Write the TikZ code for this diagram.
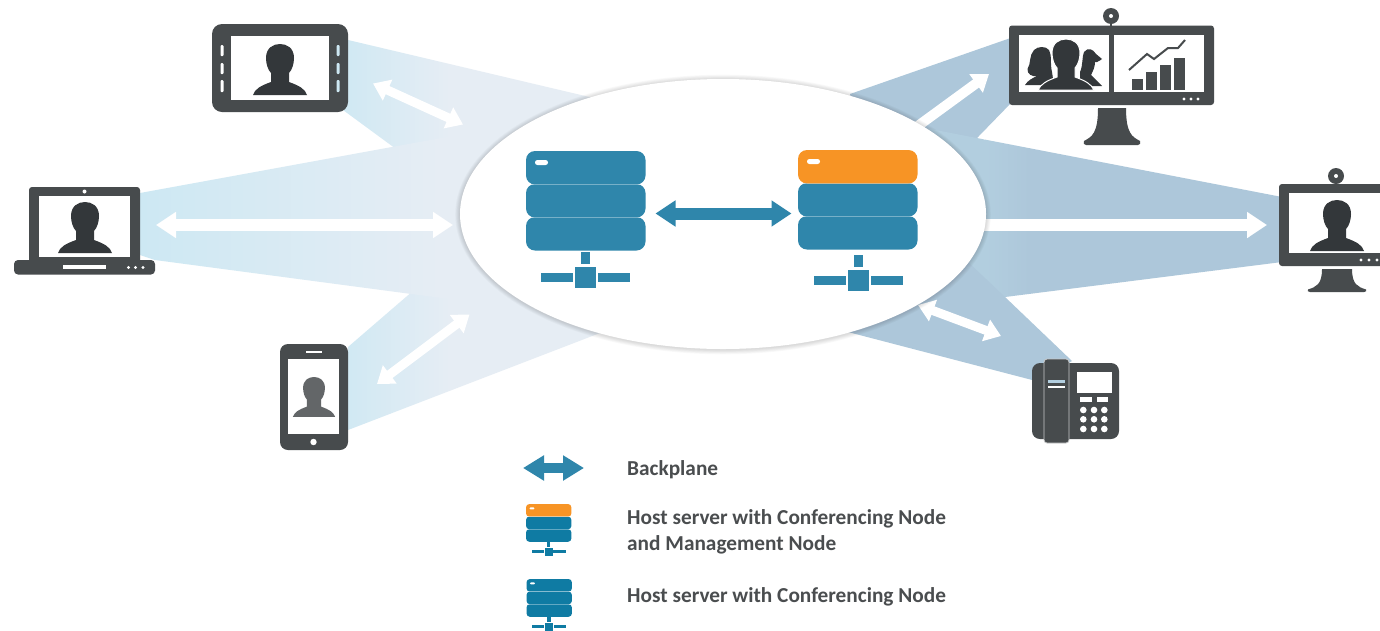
\documentclass[tikz,border=0pt]{standalone}
\usepackage{fontspec}
\setmainfont{Carlito}
\usetikzlibrary{arrows.meta}
\definecolor{dev}{HTML}{474B4D}
\definecolor{head}{HTML}{33373A}
\definecolor{srv}{HTML}{2F86AB}
\definecolor{srvl}{HTML}{0F7BA3}
\definecolor{org}{HTML}{F79425}
\definecolor{bA}{HTML}{CDE8F3}
\definecolor{bB}{HTML}{E6EDF4}
\definecolor{bR}{HTML}{ADC7DA}
\definecolor{bRl}{HTML}{B2CEDF}
\definecolor{txt}{HTML}{4A4D4F}
\tikzset{
  devbody/.style={fill=dev,draw=none},
  screenw/.style={fill=white,draw=none},
  wflow/.style={draw=white,line width=#1},
  wflow/.default=9pt,
  tipbig/.style={{Triangle[length=20pt,width=25pt]}-{Triangle[length=20pt,width=25pt]}},
  tipmid/.style={{Triangle[length=16pt,width=22pt]}-{Triangle[length=16pt,width=22pt]}},
  legendtext/.style={anchor=base west,inner sep=0pt,text=txt,font=\fontsize{21.3pt}{26pt}\selectfont\bfseries,align=left},
}
\newcommand{\beamshade}[5]{\begin{scope}\clip #5;
  \shade[left color=#3,right color=#4] (#1,0) rectangle (#2,630);
  \fill[#3] (0,0) rectangle (#1,630);
  \fill[#4] (#2,0) rectangle (1380,630);\end{scope}}
\newcommand{\person}[4]{\begin{scope}[shift={(#1,#2)},scale=#3]
  \fill[#4] (-27,51) .. controls (-25,45) and (-20,42) .. (-9,38) -- (-9,29) .. controls (-12,26) and (-14,20) .. (-14,14) .. controls (-14,4) and (-7,0) .. (0,0) .. controls (7,0) and (14,4) .. (14,14) .. controls (14,20) and (12,26) .. (9,29) -- (9,38) .. controls (20,42) and (25,45) .. (27,51) -- cycle;
\end{scope}}
\newcommand{\srvbody}[5]{\begin{scope}[shift={(#1,#2)},scale=#3]
  \fill[#5,rounded corners=#3*9pt] (0,66) rectangle (119.5,99.5);
  \fill[#5,rounded corners=#3*9pt] (0,33) rectangle (119.5,66.5);
  \fill[#4,rounded corners=#3*9pt] (0,0) rectangle (119.5,33.5);
  \draw[white,opacity=.35,line width=#3*.7pt] (3,33.2) -- (116,33.2) (3,66.2) -- (116,66.2);
  \fill[white,rounded corners=#3*2.4pt] (9,9) rectangle (22,14);
\end{scope}}
\newcommand{\srvnet}[4]{\begin{scope}[shift={(#1,#2)},scale=#3]
  \fill[#4] (55,0) rectangle (64,12);
  \fill[#4] (49,15) rectangle (70,36);
  \fill[#4] (15,21) rectangle (47,30);
  \fill[#4] (72,21) rectangle (104,30);
\end{scope}}
\newcommand{\stand}[5]{% left top, right top, top y, flare, height
  \fill[dev] (#1,#3) -- (#2,#3) .. controls (#2,#3+#5*.68) and (#2+6,#3+#5*.78) .. (#2+#4,#3+#5*.89) .. controls (#2+#4+1,#3+#5*.95) and (#2+#4,#3+#5) .. (#2+#4-2,#3+#5) -- (#1-#4+2,#3+#5) .. controls (#1-#4,#3+#5) and (#1-#4-1,#3+#5*.95) .. (#1-#4,#3+#5*.89) .. controls (#1-6,#3+#5*.78) and (#1,#3+#5*.68) .. (#1,#3) -- cycle;}
\begin{document}
\begin{tikzpicture}[x=1pt,y=-1pt]
\useasboundingbox (0,0) rectangle (1380,630);
\clip (0,0) rectangle (1380,630);
\fill[white] (0,0) rectangle (1380,630);
% named ends of the flows
\coordinate (tabA) at (373,83.5);
\coordinate (tabB) at (463,124.5);
\coordinate (lapA) at (156,225);
\coordinate (lapB) at (453,225);
\coordinate (phA) at (377,384);
\coordinate (phB) at (469.5,314.5);
\coordinate (monA) at (900,139);
\coordinate (monB) at (989,74);
\coordinate (mon2A) at (960,225);
\coordinate (mon2B) at (1267,225);
\coordinate (telA) at (918,305);
\coordinate (telB) at (1001,336);
\coordinate (bpA) at (655.5,213.5);
\coordinate (bpB) at (791.5,213.5);
\coordinate (lbpA) at (523,468);
\coordinate (lbpB) at (584,468);
% left beams
\beamshade{348}{450}{bA!85!bB}{bB}{(348,40) -- (600,99.5) -- (640,200) -- (520,240) -- (343,110) -- cycle}
\beamshade{348}{450}{bA!85!bB}{bB}{(348,347) -- (530,190) -- (640,200) -- (600,333) -- (348,430) -- cycle}
\beamshade{140}{440}{bA}{bB}{(140,193) -- (600,109) -- (600,319) -- (155,260) -- (140,255) -- cycle}
% right beams
\fill[bR] (1012,37.5) -- (850,94) -- (880,200) -- (930,185) -- (978,137) -- (1012,102) -- cycle;
\beamshade{985}{1030}{bRl}{bR}{(1282,197) -- (925,128) -- (880,200) -- (880,313) -- (1005,297) -- (1282,262) -- cycle}
\fill[bR] (848,332) -- (1036,381) -- (1072,361) -- (1005,297) -- (930,226) -- (880,250) -- cycle;
% flows
\draw[wflow=9pt,tipmid,white] (tabA) -- (tabB);
\draw[wflow=12pt,tipbig] (lapA) -- (lapB);
\draw[wflow=9pt,tipmid,white] (phA) -- (phB);
\draw[wflow=10pt,tipmid,white] (monA) -- (monB);
\draw[wflow=12pt,tipbig] (mon2A) -- (mon2B);
\draw[wflow=9pt,tipmid,white] (telA) -- (telB);
% central ellipse
\foreach \i in {1,...,6}{\fill[black,opacity=.022] (723,214.5) ellipse ({263+\i*.8} and {135+\i*.8});}
\fill[white] (723,214) ellipse (263 and 135);
\node[inner sep=0pt,minimum size=0pt] (hub) at (723,214) {};
% servers
\srvbody{526}{151}{1}{srv}{srv}
\srvnet{526}{252}{1}{srv}
\srvbody{798}{150}{1}{org}{srv}
\srvnet{798.5}{255}{1}{srv}
\draw[srv,line width=12pt,tipbig] (bpA) -- (bpB);
% tablet
\fill[devbody,rounded corners=10pt] (212,24) rectangle (348,112);
\fill[screenw] (231,36) rectangle (329,100);
\foreach \y/\z in {45/56,63/74,80/92}{
  \fill[white,rounded corners=1pt] (220.5,\y) rectangle (223.5,\z);
  \fill[bA,rounded corners=1pt] (336.5,\y) rectangle (339.5,\z);}
\person{280}{44}{1}{head}
% laptop
\fill[devbody,rounded corners=3pt] (29,187) rectangle (140,264);
\fill[screenw] (39,195.5) rectangle (130,257);
\fill[white] (84.5,191.5) circle (2);
\person{85}{202}{1}{head}
\fill[devbody,rounded corners=4pt] (14,260) rectangle (155,274.5);
\fill[white] (63,265) rectangle (106,269);
\foreach \x in {128.5,135.5,143}{\fill[white] (\x,267.5) circle (1.7);}
% phone
\fill[devbody,rounded corners=8pt] (280,344) rectangle (348,450);
\fill[screenw] (288,359) rectangle (339,434);
\fill[white] (306,351) rectangle (322,353);
\fill[white] (313.5,442) circle (3.2);
\person{314}{377}{.78}{dev!85!white}
% conference monitor
\stand{1098}{1126}{108}{14}{37}
\fill[devbody,rounded corners=3pt] (1009,25.5) rectangle (1214,105);
\fill[dev] (1110,20) rectangle (1112,30);
\fill[dev] (1111,16) circle (8);
\fill[white] (1111,16) circle (2);
\fill[screenw] (1018.5,34.5) rectangle (1108.5,92);
\fill[screenw] (1114,34.5) rectangle (1204,92);
\foreach \x in {1184,1191,1198}{\fill[white] (\x,99) circle (1.7);}
% woman
\fill[head] (1025,85) .. controls (1028,80) and (1033,78) .. (1037,76) .. controls (1032,77) and (1027,74) .. (1027.5,69) .. controls (1031,64) and (1029,55) .. (1034,50) .. controls (1038,46) and (1046,46) .. (1049,50) .. controls (1052,55) and (1050,64) .. (1052,72) -- (1054,85) -- cycle;
% man with cap
\fill[head] (1102,86) -- (1096,80) -- (1091,75) .. controls (1093,71) and (1095,67) .. (1095,62) -- (1097,62) .. controls (1099,61) and (1101,60) .. (1102,59) -- (1096,54) .. controls (1093,49) and (1088,47) .. (1084,52) .. controls (1082,56) and (1083,66) .. (1080,72) -- (1080,86) -- cycle;
\begin{scope}[shift={(1066,39)}]
  \filldraw[head,draw=white,line width=1pt] (-28,51) .. controls (-25,45) and (-20,42) .. (-9,38) -- (-9,29) .. controls (-12,26) and (-14,20) .. (-14,14) .. controls (-14,4) and (-7,0) .. (0,0) .. controls (7,0) and (14,4) .. (14,14) .. controls (14,20) and (12,26) .. (9,29) -- (9,38) .. controls (20,42) and (25,45) .. (28,51) -- cycle;
\end{scope}
% chart
\foreach \a/\b/\t in {1132.3/1143/79.3,1146.3/1157/72,1160.3/1171/65,1174.3/1185/58}{\fill[dev] (\a,\t) rectangle (\b,89.5);}
\draw[dev,line width=2pt] (1129,70) -- (1147,54) -- (1154,59) -- (1168,48) -- (1178,48) -- (1185,40);
% right monitor
\stand{1322}{1352}{269}{14}{23}
\fill[devbody,rounded corners=3pt] (1279,184) rectangle (1400,266);
\fill[dev] (1336,176) circle (8);
\fill[white] (1336,176) circle (2);
\fill[screenw] (1289,192.5) rectangle (1400,252.5);
\person{1337}{200}{1}{head}
\foreach \x in {1361,1369,1377}{\fill[white] (\x,260) circle (1.7);}
% desk phone
\fill[devbody,rounded corners=8pt] (1032,363) rectangle (1119,439);
\filldraw[dev,draw=white!70!dev,line width=.8pt,rounded corners=3pt] (1044,359) rectangle (1069,443);
\fill[bRl] (1048,380) rectangle (1065,383);
\fill[white] (1048,386) rectangle (1065,388);
\fill[screenw] (1077,372) rectangle (1112,393);
\fill[white] (1080,397) rectangle (1092,402);
\fill[white] (1097,397) rectangle (1108,402);
\foreach \x in {1083.3,1094,1104.3}{\foreach \y in {410,419.3,429}{\fill[white] (\x,\y) circle (3.3);}}
% legend
\draw[srv,line width=9.5pt,{Triangle[length=21pt,width=24pt]}-{Triangle[length=21pt,width=24pt]}] (lbpA) -- (lbpB);
\srvbody{526}{504}{.38}{org}{srvl}
\srvnet{526}{542}{.38}{srvl}
\srvbody{526.5}{579}{.38}{srvl}{srvl}
\srvnet{526.5}{617}{.38}{srvl}
\node[legendtext] (l1) at (627,475.3) {Backplane};
\node[legendtext] (l2) at (627,524.8) {Host server with Conferencing Node};
\node[legendtext] (l3) at (627,550.8) {and Management Node};
\node[legendtext] (l4) at (627,602.8) {Host server with Conferencing Node};
\end{tikzpicture}
\end{document}
